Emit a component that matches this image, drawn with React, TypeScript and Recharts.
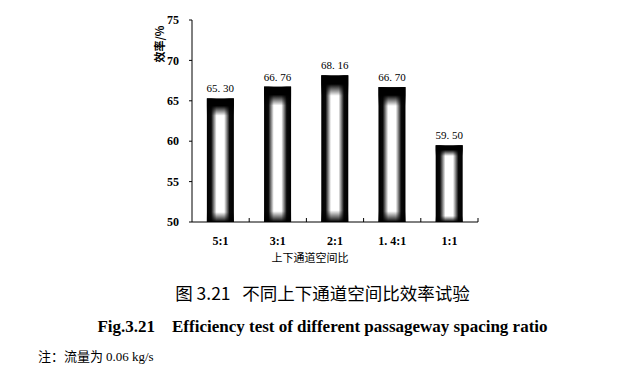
import { BarChart, Bar, XAxis, YAxis, LabelList } from 'recharts';

const categories = ['5:1', '3:1', '2:1', '1.4:1', '1:1'];
const efficiency = [65.3, 66.76, 68.16, 66.7, 59.5];
const yTicks = [50, 55, 60, 65, 70, 75];

const data = categories.map((name, i) => ({ name, value: efficiency[i] }));

const CHART_W = 619;
const MARGIN = { top: 20, right: 141, left: 152, bottom: 18 };
const Y_AXIS_W = 40;
const PLOT_W = CHART_W - MARGIN.left - MARGIN.right - Y_AXIS_W;
const HALF_BAND = PLOT_W / categories.length / 2;

const serif = '"Liberation Serif", "Times New Roman", serif';
const cjk = '"Noto Sans CJK SC", sans-serif';

function GlowBar(props: any) {
  const { x, y, width, height } = props;
  if (!height || height <= 0) return null;
  return (
    <g>
      <rect x={x} y={y} width={width} height={height} fill="url(#barH)" />
      <rect x={x} y={y} width={width} height={height} fill="url(#barV)" />
    </g>
  );
}

// the source prints a gap after the decimal point; nbsp keeps it on one line
const fmt = (v: any) => Number(v).toFixed(2).replace('.', '.\u00a0');

// category label plus a short upward mark on the right edge of its band
function CatTick(props: any) {
  const { x, y, payload } = props;
  const axisY = y - 8; // default tickSize 6 + tickMargin 2
  return (
    <g>
      <line x1={x + HALF_BAND} x2={x + HALF_BAND} y1={axisY} y2={axisY - 4} stroke="#000" />
      <text
        x={x}
        y={y + 6}
        dy="0.71em"
        textAnchor="middle"
        fill="#000"
        fontSize={12}
        fontWeight="bold"
        fontFamily={serif}
      >
        {String(payload.value).replace('.', '.\u00a0')}
      </text>
    </g>
  );
}

function YLabel(props: any) {
  const x = props.viewBox.x + 7;
  const y = 44;
  return (
    <text
      x={x}
      y={y}
      transform={`rotate(-90, ${x}, ${y})`}
      textAnchor="middle"
      dominantBaseline="central"
      fill="#000"
      fontSize={11}
      fontWeight="bold"
      fontFamily={cjk}
    >
      效率/%
    </text>
  );
}

export default function App() {
  return (
    <div style={{ position: 'absolute', left: 0, top: 0, width: 619, height: 377, background: '#fff' }}>
      <BarChart width={CHART_W} height={270} data={data} margin={MARGIN} barCategoryGap="26%">
        <defs>
          <linearGradient id="barH" x1="0" y1="0" x2="1" y2="0">
            <stop offset="0%" stopColor="#000" />
            <stop offset="16%" stopColor="#0a0a0a" />
            <stop offset="36%" stopColor="#fff" />
            <stop offset="64%" stopColor="#fff" />
            <stop offset="84%" stopColor="#0a0a0a" />
            <stop offset="100%" stopColor="#000" />
          </linearGradient>
          <linearGradient id="barV" x1="0" y1="0" x2="0" y2="1">
            <stop offset="0%" stopColor="#000" stopOpacity={1} />
            <stop offset="6%" stopColor="#000" stopOpacity={1} />
            <stop offset="14%" stopColor="#000" stopOpacity={0} />
            <stop offset="92%" stopColor="#000" stopOpacity={0} />
            <stop offset="100%" stopColor="#000" stopOpacity={1} />
          </linearGradient>
        </defs>
        <XAxis
          dataKey="name"
          height={30}
          stroke="#000"
          tickLine={false}
          tick={<CatTick />}
          label={{
            value: '上下通道空间比',
            position: 'insideBottom',
            offset: -10,
            dx: -25,
            style: { fill: '#000', fontSize: 11, fontFamily: cjk },
          }}
        />
        <YAxis
          width={Y_AXIS_W}
          domain={[50, 75]}
          ticks={yTicks}
          stroke="#000"
          tickSize={3}
          tick={{ fill: '#000', fontSize: 12, fontFamily: serif, fontWeight: 'bold', dx: -8 }}
          label={<YLabel />}
        />
        <Bar dataKey="value" isAnimationActive={false} shape={GlowBar}>
          <LabelList
            dataKey="value"
            position="top"
            offset={6}
            formatter={fmt}
            style={{ fill: '#000', fontSize: 11, fontFamily: serif }}
          />
        </Bar>
      </BarChart>
      <div
        style={{
          position: 'absolute',
          top: 280,
          left: 0,
          width: 645,
          textAlign: 'center',
          fontFamily: cjk,
          fontSize: 17.5,
          color: '#000',
          whiteSpace: 'pre',
        }}
      >
        {'图 3.21   不同上下通道空间比效率试验'}
      </div>
      <div
        style={{
          position: 'absolute',
          top: 317,
          left: 0,
          width: 645,
          textAlign: 'center',
          fontFamily: serif,
          fontWeight: 'bold',
          fontSize: 17,
          color: '#000',
          whiteSpace: 'pre',
        }}
      >
        {'Fig.3.21    Efficiency test of different passageway spacing ratio'}
      </div>
      <div
        style={{
          position: 'absolute',
          top: 346,
          left: 38,
          fontFamily: cjk,
          fontSize: 13,
          color: '#000',
          whiteSpace: 'pre',
        }}
      >
        {'注：流量为 '}
        <span style={{ fontFamily: serif, fontSize: 13 }}>0.06 kg/s</span>
      </div>
    </div>
  );
}
